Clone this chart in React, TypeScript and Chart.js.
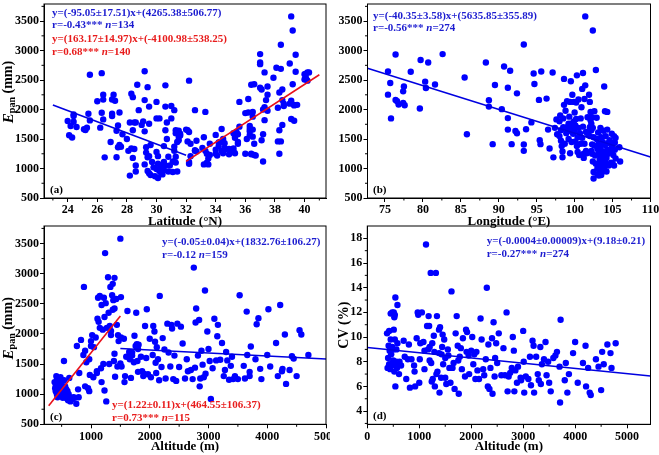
import React, { useEffect, useRef } from 'react';
import { Chart, registerables } from 'chart.js';
Chart.register(...registerables);

const SERIF = '"Liberation Serif", "Times New Roman", serif';
type Pt = [number, number];

// ---------- tick values ----------
const latitudeTicks = [24, 26, 28, 30, 32, 34, 36, 38, 40];
const latitudeMinor = [23, 25, 27, 29, 31, 33, 35, 37, 39, 41];
const epanTicks = [500, 1000, 1500, 2000, 2500, 3000, 3500];
const epanMinor = [750, 1250, 1750, 2250, 2750, 3250, 3750];
const longitudeTicks = [75, 80, 85, 90, 95, 100, 105, 110];
const longitudeMinor = [77.5, 82.5, 87.5, 92.5, 97.5, 102.5, 107.5];
const altitudeTicksC = [1000, 2000, 3000, 4000, 5000];
const altitudeMinorC = [500, 1500, 2500, 3500, 4500];
const altitudeTicksD = [0, 1000, 2000, 3000, 4000, 5000];
const altitudeMinorD = [500, 1500, 2500, 3500, 4500];
const cvTicks = [4, 6, 8, 10, 12, 14, 16, 18];
const cvMinor = [3, 5, 7, 9, 11, 13, 15, 17];

// ---------- (a) Epan vs latitude ----------
const latitudeEpan: Pt[] = [
  [24.0,1805],[24.1,1564],[24.2,1720],[24.3,1525],[24.4,1917],[24.4,1890],[24.4,1794],[24.6,1704],[25.1,1665],[25.2,1654],
  [25.3,1693],[25.4,1928],[25.5,2589],[25.5,1816],[26.0,2141],[26.2,1693],[26.3,2617],[26.3,1945],[26.4,1833],[26.4,2253],
  [26.4,2169],[26.5,1189],[27.0,2170],[27.1,2250],[27.2,2150],[27.0,1930],[27.0,1890],[26.9,1450],[27.4,1730],[27.3,1640],
  [27.5,1400],[27.4,1360],[27.6,1370],[27.3,1190],[27.5,1950],[27.7,1580],[28.0,1500],[28.1,1300],[28.2,880],[28.3,2270],
  [28.4,2210],[28.5,1780],[28.6,1780],[28.5,1330],[28.3,1340],[28.6,1050],[28.6,950],[28.4,1180],[28.7,2420],[28.8,1990],
  [28.4,1650],[28.2,1780],[29.2,2650],[29.2,2160],[29.1,1800],[29.2,1630],[29.0,1740],[29.3,1360],[29.3,1270],[29.5,1210],
  [29.4,1190],[29.2,1070],[29.4,960],[29.5,920],[29.6,1400],[29.5,1760],[29.4,2380],[29.5,2050],[29.7,1110],[29.8,1020],
  [29.6,890],[29.9,870],[30.0,2130],[30.0,1850],[30.2,1850],[30.0,1280],[30.1,1210],[30.1,1080],[30.0,990],[30.1,840],
  [30.2,960],[30.3,930],[30.3,1010],[30.4,900],[30.4,1060],[30.5,970],[30.5,1380],[30.6,2410],[30.6,1650],[30.7,1780],
  [30.6,2050],[30.7,1500],[30.5,1110],[30.6,1050],[30.8,950],[30.8,1200],[30.9,1050],[31.0,2060],[31.0,1850],[31.2,1990],
  [31.3,1600],[31.2,1370],[31.2,1300],[31.3,1100],[31.1,1120],[31.1,940],[31.3,1200],[31.4,1450],[31.5,1540],[31.5,1640],
  [31.4,1600],[31.6,1590],[31.4,950],[31.6,1560],[31.3,1650],[31.5,1480],[32.0,1660],[32.1,1650],[32.2,1620],[32.2,2490],
  [32.1,1460],[32.3,1420],[32.2,1110],[32.3,1210],[32.2,1080],[32.6,1300],[32.6,1310],[32.6,1990],[32.7,1290],[32.7,1470],
  [33.1,1350],[33.3,1960],[33.2,1530],[33.3,1300],[33.4,1250],[33.4,1100],[33.5,1070],[33.5,1170],[33.6,1230],[33.2,1070],
  [33.6,1420],[34.0,1320],[34.0,1250],[34.1,1220],[34.0,1570],[34.2,1380],[34.2,1440],[34.3,1450],[34.4,1300],[34.4,1670],
  [34.5,1500],[34.6,1430],[34.6,1350],[34.5,1260],[34.6,1320],[34.9,1240],[35.0,1300],[35.1,1280],[35.2,1290],[35.2,1340],
  [35.3,1550],[35.3,1520],[35.4,1600],[35.4,1620],[35.3,1260],[35.5,1450],[35.5,1420],[35.6,1710],[35.6,2130],[35.5,1580],
  [35.2,1600],[34.9,1330],[36.0,1940],[36.0,1250],[36.1,1500],[36.2,1950],[36.2,2180],[36.3,1720],[36.3,1630],[36.3,1570],
  [36.4,2420],[36.3,1670],[36.4,1250],[36.5,1960],[36.5,1880],[36.6,2430],[36.5,1540],[36.6,1420],[36.6,1230],[36.7,1220],
  [36.5,1660],[36.4,1240],[37.0,2940],[37.0,2800],[37.0,2770],[37.0,2370],[37.1,2340],[37.2,2000],[37.2,1580],[37.1,1480],
  [37.2,1120],[37.3,2630],[37.3,1820],[37.3,2040],[37.5,2250],[37.5,2390],[37.4,2160],[37.5,1980],[37.9,2540],[38.1,2710],
  [38.2,2030],[38.2,1460],[38.3,2290],[38.3,1250],[38.3,1650],[38.4,2690],[38.4,3100],[38.5,2340],[38.5,2160],[38.6,2100],
  [38.5,1740],[38.4,1460],[38.6,2060],[39.0,2780],[39.1,3580],[39.1,2150],[39.0,2100],[39.1,1840],[39.2,3340],[39.2,2430],
  [39.3,1810],[39.3,2070],[39.4,2930],[39.4,2640],[39.5,2080],[39.3,2080],[40.0,2600],[40.1,2530],[40.1,2610],[40.2,2630],
  [40.2,2490],[40.3,2630],[40.0,2510]
];
const latitudeFitSouth: Pt[] = [[23, 2079], [32, 1224]];
const latitudeFitNorth: Pt[] = [[32, 1120], [41, 2590]];

// ---------- (b) Epan vs longitude ----------
const longitudeEpan: Pt[] = [
  [75.4,2645],[75.4,2253],[75.7,2450],[75.8,1850],[76.4,2934],[76.4,2164],[76.6,2140],[76.8,2085],[77.4,2309],[77.5,2393],
  [77.4,2113],[77.6,2074],[78.4,2640],[79.7,2841],[79.6,2018],[80.3,2473],[80.4,2365],[80.7,2797],[81.6,2426],[82.6,2940],
  [85.5,2543],[85.8,1581],[88.3,2797],[88.7,2158],[88.7,2050],[89.2,1413],[89.5,2416],[90.4,2007],[90.7,2730],[91.2,2370],
  [91.2,1855],[91.2,1660],[91.5,2657],[91.7,1413],[92.2,1637],[92.4,1597],[92.4,2275],[93.3,3102],[93.3,1407],[93.3,1300],
  [93.6,1665],[94.3,1782],[94.6,2612],[94.7,2433],[95.3,2164],[95.4,1480],[95.5,1413],[95.6,2645],[96.3,2186],[96.5,1660],
  [96.7,1340],[97.1,2629],[97.2,1189],[97.4,1690],[97.6,1833],[97.7,1581],
  [98.0,1800],[98.0,1550],[98.1,1900],[98.2,1650],[98.2,1470],[98.3,1380],[98.4,1290],[98.4,1190],[98.5,1700],[98.5,1850],
  [98.6,2080],[98.6,2520],[98.7,1420],[98.8,1980],[98.9,1600],[99.0,1700],[99.0,2140],[99.2,1500],[99.2,1760],[99.3,1880],
  [99.3,1640],[99.4,2130],[99.4,1260],[99.5,2480],[99.5,1760],[99.6,1680],[99.6,1450],[99.7,2250],[99.8,1590],[99.9,1800],
  [99.9,2130],[100.0,1950],[100.0,1640],[100.1,1460],[100.1,1730],[100.2,2120],[100.2,1840],[100.3,2580],[100.3,1380],[100.4,1530],
  [100.4,1280],[100.5,2170],[100.5,1690],[100.6,1230],[100.7,1600],[100.8,1850],[100.8,1420],[100.9,2040],[101.0,1520],[101.0,2350],
  [101.1,2620],[101.1,1710],[101.2,1250],[101.2,1180],[101.3,2180],[101.3,1420],[101.4,3580],[101.4,2410],[101.5,1300],[101.5,1620],
  [101.6,1260],[101.7,1870],[101.8,1570],[101.9,2250],[102.0,2130],[102.0,1700],[102.0,1550],[102.1,1960],[102.1,1820],[102.2,1760],
  [102.2,1650],[102.2,1300],[102.3,1870],[102.3,1410],[102.3,1250],[102.4,1690],[102.4,3340],[102.4,1120],[102.5,940],[102.5,830],
  [102.5,1530],[102.6,1970],[102.6,1390],[102.7,1220],[102.8,2670],[102.8,1080],[102.9,1860],[102.9,1500],[103.0,900],[103.0,1330],
  [103.0,1000],[103.1,1610],[103.1,1240],[103.2,880],[103.2,1050],[103.2,1420],[103.3,1150],[103.3,960],[103.4,1690],[103.4,1380],
  [103.4,1100],[103.5,890],[103.5,1210],[103.5,1530],[103.6,1000],[103.6,1300],[103.7,1060],[103.7,1450],[103.7,950],[103.8,1160],
  [103.8,1640],[103.9,2390],[103.9,1250],[103.9,1010],[104.0,1120],[104.0,1970],[104.0,1400],[104.1,1080],[104.1,1550],[104.2,1180],
  [104.2,950],[104.3,1960],[104.3,1660],[104.3,1320],[104.4,1250],[104.4,1430],[104.5,1050],[104.6,1480],[104.8,1300],[104.8,1100],
  [104.9,1590],[104.9,1380],[105.0,1440],[105.0,1080],[105.1,1230],[105.2,1050],[105.2,1550],[105.3,1320],[105.3,1440],[105.4,1170],
  [105.4,1520],[105.9,1360],[106.0,1120]
];
const longitudeFit: Pt[] = [[72.7, 2702], [110, 1197]];

// ---------- (c) Epan vs altitude ----------
const altitudeEpan: Pt[] = [
  [380,1200],[390,1100],[400,1050],[400,1150],[410,1300],[420,1000],[420,1250],[430,1100],[430,950],[440,1180],
  [450,1050],[450,1000],[460,1120],[470,980],[480,1280],[480,1080],[490,1150],[500,1000],[500,1200],[510,1060],
  [520,940],[520,1100],[530,1000],[540,1230],[540,1550],[550,1050],[560,970],[560,1130],[570,1000],[580,1080],
  [590,930],[600,1050],[610,900],[620,1000],[630,1270],[650,880],[680,920],[700,950],[720,940],[750,840],
  [760,1800],[780,1080],[790,950],[800,1350],[830,1900],[870,1650],[880,2780],[900,1720],[900,1130],[920,1530],
  [950,1100],[970,1580],[970,1050],[980,1320],[1000,1800],[1000,1880],[1020,1980],[1040,1280],[1050,1780],[1080,1940],
  [1100,1350],[1100,1380],[1110,2250],[1120,2600],[1130,2200],[1150,2630],[1150,2100],[1170,1430],[1180,2480],[1180,1200],
  [1200,2070],[1210,1500],[1220,2600],[1230,1060],[1230,2280],[1240,3340],[1250,2510],[1260,880],[1270,2100],[1290,2940],
  [1300,2350],[1310,1500],[1320,2130],[1330,2780],[1340,2050],[1340,1980],[1360,2640],[1370,2830],[1370,2400],[1380,2560],
  [1390,1550],[1400,2930],[1400,1670],[1400,2420],[1410,1290],[1430,2580],[1440,2150],[1450,1460],[1460,1980],[1470,1880],
  [1500,3580],[1500,1510],[1510,2610],[1510,1940],[1520,1460],[1560,1920],[1570,1200],[1580,1300],[1600,1620],[1620,2380],
  [1650,1700],[1660,1580],[1680,1270],[1700,1690],[1700,1640],[1730,1530],[1740,1970],[1760,1800],[1770,2350],[1780,1830],
  [1790,1550],[1800,1370],[1800,1750],[1810,1820],[1850,1620],[1870,1380],[1890,1300],[1900,1340],[1920,2130],[1940,1600],
  [1950,2410],[1970,1330],[2000,1920],[2020,1280],[2050,1650],[2060,2130],[2080,2040],[2090,1870],[2100,1520],[2110,1350],
  [2120,1780],[2140,1580],[2160,1230],[2170,2630],[2200,1450],[2220,1930],[2250,1740],[2270,1260],[2300,2170],[2320,1690],
  [2350,1460],[2370,2150],[2380,2090],[2400,1250],[2420,1640],[2450,1220],[2470,2170],[2500,1450],[2530,2120],[2560,1840],
  [2600,1260],[2630,1580],[2650,1380],[2700,1400],[2730,1250],[2750,3100],[2770,1440],[2780,2190],[2790,2420],[2820,1640],
  [2840,2230],[2850,1130],[2860,1260],[2880,1720],[2900,1490],[2920,1280],[2940,2720],[2950,1340],[2980,2040],[3000,1750],
  [3020,1550],[3040,920],[3070,1430],[3100,2250],[3130,1560],[3150,1960],[3160,2150],[3200,1570],[3230,1850],[3260,1300],
  [3280,1400],[3300,1700],[3320,1560],[3350,1240],[3380,1470],[3400,1620],[3420,1250],[3450,1300],[3500,1250],[3530,2640],
  [3600,1470],[3620,1260],[3650,2370],[3660,1650],[3700,1370],[3700,1300],[3720,1790],[3800,1580],[3820,2160],[3850,2260],
  [3880,1420],[3900,1250],[4000,1650],[4020,2410],[4050,1460],[4150,1850],[4180,1300],[4220,2480],[4250,1380],[4260,1420],
  [4300,1990],[4320,1170],[4380,1400],[4420,1630],[4450,1590],[4500,1300],[4550,2060],[4580,1990],[4700,1650]
];
const altitudeFitLow: Pt[] = [[280, 806], [1500, 2295]];
const altitudeFitHigh: Pt[] = [[1500, 1758], [5000, 1583]];

// ---------- (d) CV vs altitude ----------
const altitudeCv: Pt[] = [
  [380,10.3],[390,7.5],[400,8.3],[410,9.3],[420,10.5],[420,7.8],[430,8.9],[440,7.4],[450,9.8],[450,11.9],
  [460,8.6],[470,7.7],[480,9.2],[480,12.0],[490,7.9],[500,8.1],[500,9.0],[510,12.0],[510,10.6],[520,7.2],
  [520,11.6],[530,11.8],[530,9.8],[540,13.2],[540,6.0],[550,7.7],[560,9.0],[560,8.0],[570,7.5],[580,12.6],
  [580,9.5],[600,7.8],[610,7.0],[620,8.0],[650,7.7],[700,9.7],[720,8.4],[750,6.6],[780,8.2],[800,9.4],
  [820,5.9],[850,8.2],[900,7.7],[910,7.2],[920,6.0],[950,9.9],[970,12.0],[980,11.8],[1000,6.3],[1010,8.2],
  [1020,9.5],[1050,12.0],[1080,9.6],[1100,8.9],[1100,7.4],[1130,17.5],[1150,10.9],[1170,9.0],[1180,11.7],[1190,10.9],
  [1200,9.2],[1200,8.1],[1220,15.2],[1230,7.9],[1240,6.4],[1250,9.5],[1260,6.6],[1280,10.1],[1290,8.8],[1300,6.0],
  [1320,15.2],[1330,7.0],[1340,11.7],[1350,7.2],[1380,10.6],[1380,8.7],[1390,5.5],[1400,10.8],[1420,6.7],[1430,8.6],
  [1440,9.2],[1450,10.2],[1460,7.8],[1480,9.8],[1500,8.3],[1500,6.7],[1520,6.2],[1550,9.0],[1560,8.5],[1580,7.5],
  [1600,6.3],[1620,13.7],[1640,7.5],[1660,7.9],[1680,5.8],[1700,10.3],[1720,11.7],[1740,9.3],[1750,8.1],[1760,5.4],
  [1780,8.4],[1800,9.1],[1820,7.4],[1840,9.9],[1880,6.8],[1900,10.6],[1910,8.8],[1920,10.4],[1950,8.5],[1960,7.0],
  [2000,8.9],[2020,10.0],[2040,7.8],[2060,8.6],[2080,6.6],[2100,8.8],[2120,7.3],[2150,6.6],[2180,11.5],[2200,9.8],
  [2230,7.4],[2250,6.9],[2280,8.2],[2300,14.0],[2320,6.0],[2330,9.4],[2350,5.8],[2370,7.5],[2400,9.9],[2410,5.4],
  [2430,11.2],[2450,6.8],[2460,8.3],[2480,9.5],[2500,7.9],[2530,10.3],[2580,6.9],[2620,9.1],[2650,6.9],[2680,12.0],
  [2700,5.6],[2720,6.8],[2750,7.1],[2780,7.5],[2800,10.0],[2820,8.9],[2830,5.6],[2850,7.3],[2880,6.3],[2900,7.6],
  [2950,6.7],[2960,6.5],[3000,10.5],[3010,8.0],[3020,5.5],[3050,6.8],[3100,6.6],[3130,8.4],[3150,6.1],[3180,9.7],
  [3200,9.3],[3210,5.5],[3250,8.4],[3280,7.0],[3300,6.5],[3330,9.2],[3340,6.2],[3360,7.8],[3400,8.2],[3430,9.6],
  [3450,6.9],[3480,8.0],[3500,6.3],[3530,5.6],[3580,8.3],[3620,8.5],[3650,8.8],[3700,7.6],[3710,4.7],[3720,11.4],
  [3800,6.5],[3820,7.9],[3850,5.5],[3880,7.0],[3960,8.7],[4000,9.6],[4050,6.3],[4150,7.9],[4200,9.3],[4210,6.0],
  [4250,7.5],[4280,5.5],[4300,5.3],[4400,8.2],[4450,7.6],[4500,5.7],[4520,8.8],[4550,7.8],[4620,9.4],[4680,8.7],
  [4700,7.5],[4780,9.5]
];
const altitudeCvFit: Pt[] = [[0, 9.15], [5450, 6.85]];

// ---------- styles ----------
const POINT = '#0000ff';
const BLUE_LINE = '#0000e0';
const RED_LINE = '#e8101a';
const BLUE_TEXT = '#1c1cd0';
const RED_TEXT = '#e81c1c';

type Run = { t: string; i?: boolean };
interface Note { x: number; y: number; runs: Run[]; color: string; size: number }
interface LineSpec { pts: Pt[]; color: string }
interface Spec {
  left: number; top: number; width: number; height: number;
  area: { l: number; t: number; r: number; b: number };
  xMin: number; xMax: number; xTicks: number[]; xMinor: number[]; xTitle: string; xTitlePad: number;
  yMin: number; yMax: number; yTicks: number[]; yMinor: number[];
  yTitle: 'epan' | 'cv' | null; yTitleY?: number;
  points: Pt[]; lines: LineSpec[]; notes: Note[];
}

const NOTE = 11;
const eq = (s: string): Run[] => [{ t: s }];
const rn = (a: string, b: string): Run[] => [{ t: a }, { t: 'n', i: true }, { t: b }];
const letter = (s: string, x: number, y: number): Note => ({ x, y, runs: [{ t: s }], color: '#000', size: 11 });

const specs: Spec[] = [
  {
    left: 0, top: 0, width: 330, height: 232, area: { l: 44, t: 2, r: 328, b: 198 },
    xMin: 22.4, xMax: 41.45, xTicks: latitudeTicks, xMinor: latitudeMinor, xTitle: 'Latitude (°N)', xTitlePad: 3,
    yMin: 500, yMax: 3790, yTicks: epanTicks, yMinor: epanMinor, yTitle: 'epan', yTitleY: 92,
    points: latitudeEpan,
    lines: [{ pts: latitudeFitSouth, color: BLUE_LINE }, { pts: latitudeFitNorth, color: RED_LINE }],
    notes: [
      { x: 52, y: 13, runs: eq('y=(-95.05±17.51)x+(4265.38±506.77)'), color: BLUE_TEXT, size: NOTE },
      { x: 52, y: 25.5, runs: rn('r=-0.43*** ', '=134'), color: BLUE_TEXT, size: NOTE },
      { x: 52, y: 39, runs: eq('y=(163.17±14.97)x+(-4100.98±538.25)'), color: RED_TEXT, size: NOTE },
      { x: 52, y: 52, runs: rn('r=0.68*** ', '=140'), color: RED_TEXT, size: NOTE },
      letter('(a)', 50, 190),
    ],
  },
  {
    left: 330, top: 0, width: 329, height: 232, area: { l: 37.5, t: 2, r: 320.5, b: 198 },
    xMin: 72.7, xMax: 110, xTicks: longitudeTicks, xMinor: longitudeMinor, xTitle: 'Longitude (°E)', xTitlePad: 3,
    yMin: 500, yMax: 3790, yTicks: epanTicks, yMinor: epanMinor, yTitle: null,
    points: longitudeEpan,
    lines: [{ pts: longitudeFit, color: BLUE_LINE }],
    notes: [
      { x: 43, y: 15.7, runs: eq('y=(-40.35±3.58)x+(5635.85±355.89)'), color: BLUE_TEXT, size: NOTE },
      { x: 43, y: 28.3, runs: rn('r=-0.56*** ', '=274'), color: BLUE_TEXT, size: NOTE },
      letter('(b)', 43, 190),
    ],
  },
  {
    left: 0, top: 220, width: 330, height: 235, area: { l: 44, t: 6, r: 328, b: 204.3 },
    xMin: 200, xMax: 5000, xTicks: altitudeTicksC, xMinor: altitudeMinorC, xTitle: 'Altitude (m)', xTitlePad: 0.5,
    yMin: 500, yMax: 3790, yTicks: epanTicks, yMinor: epanMinor, yTitle: 'epan', yTitleY: 108.3,
    points: altitudeEpan,
    lines: [{ pts: altitudeFitLow, color: RED_LINE }, { pts: altitudeFitHigh, color: BLUE_LINE }],
    notes: [
      { x: 162, y: 21.7, runs: eq('y=(-0.05±0.04)x+(1832.76±106.27)'), color: BLUE_TEXT, size: NOTE },
      { x: 162, y: 35, runs: rn('r=-0.12 ', '=159'), color: BLUE_TEXT, size: NOTE },
      { x: 112, y: 185, runs: eq('y=(1.22±0.11)x+(464.55±106.37)'), color: RED_TEXT, size: NOTE },
      { x: 112, y: 197.7, runs: rn('r=0.73*** ', '=115'), color: RED_TEXT, size: NOTE },
      letter('(c)', 50, 196.7),
    ],
  },
  {
    left: 330, top: 220, width: 329, height: 235, area: { l: 37.3, t: 6, r: 320.5, b: 204.3 },
    xMin: 0, xMax: 5450, xTicks: altitudeTicksD, xMinor: altitudeMinorD, xTitle: 'Altitude (m)', xTitlePad: 0.5,
    yMin: 2.93, yMax: 19, yTicks: cvTicks, yMinor: cvMinor, yTitle: 'cv',
    points: altitudeCv,
    lines: [{ pts: altitudeCvFit, color: BLUE_LINE }],
    notes: [
      { x: 156.7, y: 21, runs: eq('y=(-0.0004±0.00009)x+(9.18±0.21)'), color: BLUE_TEXT, size: NOTE },
      { x: 156.7, y: 34.3, runs: rn('r=-0.27*** ', '=274'), color: BLUE_TEXT, size: NOTE },
      letter('(d)', 43, 195.7),
    ],
  },
];

function drawRuns(ctx: CanvasRenderingContext2D, x: number, y: number, runs: Run[], color: string, size: number) {
  ctx.fillStyle = color;
  ctx.textBaseline = 'middle';
  ctx.textAlign = 'left';
  let cx = x;
  for (const r of runs) {
    ctx.font = `${r.i ? 'italic ' : ''}bold ${size}px ${SERIF}`;
    ctx.fillText(r.t, cx, y);
    cx += ctx.measureText(r.t).width;
  }
}

function drawEpanTitle(ctx: CanvasRenderingContext2D, cx: number, cy: number) {
  const parts = [
    { t: 'E', f: `italic bold 15px ${SERIF}`, dy: 0 },
    { t: 'pan', f: `bold 10px ${SERIF}`, dy: 4 },
    { t: ' (mm)', f: `bold 14px ${SERIF}`, dy: 0 },
  ];
  ctx.save();
  ctx.translate(cx, cy);
  ctx.rotate(-Math.PI / 2);
  ctx.textBaseline = 'middle';
  ctx.textAlign = 'left';
  ctx.fillStyle = '#000';
  let total = 0;
  for (const p of parts) { ctx.font = p.f; total += ctx.measureText(p.t).width; }
  let x = -total / 2;
  for (const p of parts) {
    ctx.font = p.f;
    ctx.fillText(p.t, x, p.dy);
    x += ctx.measureText(p.t).width;
  }
  ctx.restore();
}

function buildChart(canvas: HTMLCanvasElement, s: Spec): Chart {
  const tickFont = { family: SERIF, size: 12, weight: 'bold' as const };
  const titleFont = { family: SERIF, size: 13, weight: 'bold' as const };
  const decor = {
    id: 'decor',
    afterDraw(chart: any) {
      const ctx: CanvasRenderingContext2D = chart.ctx;
      const ca = chart.chartArea;
      const xs = chart.scales.x;
      const ys = chart.scales.y;
      ctx.save();
      ctx.strokeStyle = '#000';
      ctx.lineWidth = 1;
      ctx.strokeRect(ca.left, ca.top, ca.right - ca.left, ca.bottom - ca.top);
      ctx.beginPath();
      s.xMinor.forEach((v) => {
        if (v < s.xMin || v > s.xMax) return;
        const p = xs.getPixelForValue(v);
        ctx.moveTo(p, ca.bottom);
        ctx.lineTo(p, ca.bottom + 2.5);
      });
      s.yMinor.forEach((v) => {
        if (v < s.yMin || v > s.yMax) return;
        const p = ys.getPixelForValue(v);
        ctx.moveTo(ca.left, p);
        ctx.lineTo(ca.left - 2.5, p);
      });
      ctx.stroke();
      s.notes.forEach((n) => drawRuns(ctx, n.x, n.y, n.runs, n.color, n.size));
      if (s.yTitle === 'epan') drawEpanTitle(ctx, 8.8, s.yTitleY || 100);
      ctx.restore();
    },
  };
  const datasets: any[] = s.lines.map((l) => ({
    data: l.pts.map(([x, y]) => ({ x, y })),
    showLine: true,
    borderColor: l.color,
    borderWidth: 1.6,
    pointRadius: 0,
    fill: false,
    order: 0,
  }));
  datasets.push({
    data: s.points.map(([x, y]) => ({ x, y })),
    showLine: false,
    pointRadius: 3.2,
    pointBackgroundColor: POINT,
    pointBorderWidth: 0,
    borderColor: POINT,
    order: 1,
  });
  const fmt = (v: any) => String(v);
  return new Chart(canvas, {
    type: 'scatter',
    data: { datasets },
    plugins: [decor],
    options: {
      responsive: false,
      animation: false,
      devicePixelRatio: 1,
      events: [],
      layout: { padding: { left: 0, top: s.area.t, right: s.width - s.area.r, bottom: 0 } },
      plugins: { legend: { display: false }, tooltip: { enabled: false } },
      scales: {
        x: {
          type: 'linear',
          min: s.xMin,
          max: s.xMax,
          afterBuildTicks: (sc: any) => { sc.ticks = s.xTicks.map((v) => ({ value: v })); },
          afterFit: (sc: any) => { sc.height = s.height - s.area.b; sc.paddingLeft = 0; sc.paddingRight = 0; },
          grid: { drawOnChartArea: false, drawTicks: true, tickLength: 4, tickColor: '#000', tickWidth: 1 },
          border: { display: true, color: '#000', width: 1 },
          ticks: { font: tickFont, color: '#000', padding: 1, maxRotation: 0, autoSkip: false, callback: fmt },
          title: { display: true, text: s.xTitle, font: titleFont, color: '#000', padding: { top: 0, bottom: s.xTitlePad } },
        },
        y: {
          type: 'linear',
          min: s.yMin,
          max: s.yMax,
          afterBuildTicks: (sc: any) => { sc.ticks = s.yTicks.map((v) => ({ value: v })); },
          afterFit: (sc: any) => { sc.width = s.area.l; sc.paddingTop = 0; sc.paddingBottom = 0; },
          grid: { drawOnChartArea: false, drawTicks: true, tickLength: 4, tickColor: '#000', tickWidth: 1 },
          border: { display: true, color: '#000', width: 1 },
          ticks: { font: tickFont, color: '#000', padding: 1, autoSkip: false, callback: fmt },
          title: {
            display: s.yTitle === 'cv',
            text: 'CV (%)',
            font: { family: SERIF, size: 14, weight: 'bold' as const },
            color: '#000',
            padding: { top: 6, bottom: 0 },
          },
        },
      },
    } as any,
  });
}

function Panel({ spec }: { spec: Spec }) {
  const ref = useRef<HTMLCanvasElement | null>(null);
  useEffect(() => {
    if (!ref.current) return;
    const chart = buildChart(ref.current, spec);
    return () => chart.destroy();
  }, [spec]);
  return (
    <canvas
      ref={ref}
      width={spec.width}
      height={spec.height}
      style={{ position: 'absolute', left: spec.left, top: spec.top, width: spec.width, height: spec.height }}
    />
  );
}

export default function App() {
  return (
    <div style={{ position: 'absolute', left: 0, top: 0, width: 659, height: 455, background: '#fff', overflow: 'hidden' }}>
      {specs.map((s, i) => (
        <Panel key={i} spec={s} />
      ))}
    </div>
  );
}
